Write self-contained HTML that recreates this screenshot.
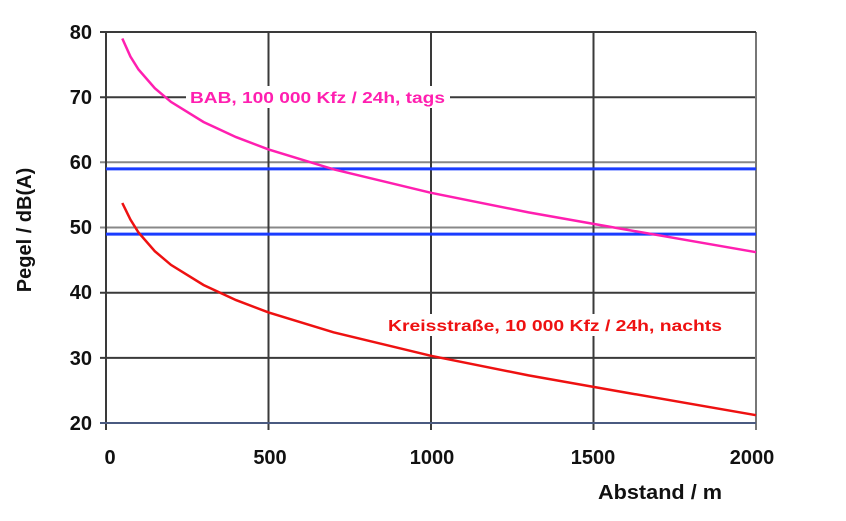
<!DOCTYPE html>
<html><head><meta charset="utf-8"><style>
body{margin:0;background:#fff}
svg{display:block;font-family:"Liberation Sans",Arial,sans-serif}
</style></head><body>
<svg width="846" height="521" viewBox="0 0 846 521">
<g stroke="#3a3a3a" stroke-width="2">
<line x1="100" y1="97.2" x2="756" y2="97.2"/>
<line x1="100" y1="162.3" x2="756" y2="162.3" stroke="#888"/>
<line x1="100" y1="227.5" x2="756" y2="227.5" stroke="#888"/>
<line x1="100" y1="292.7" x2="756" y2="292.7"/>
<line x1="100" y1="357.9" x2="756" y2="357.9"/>
<line x1="268.5" y1="32" x2="268.5" y2="430"/>
<line x1="431" y1="32" x2="431" y2="430"/>
<line x1="593.5" y1="32" x2="593.5" y2="430"/>
<line x1="756" y1="32" x2="756" y2="430" stroke="#777"/>
<line x1="100" y1="32" x2="756" y2="32"/>
<line x1="106" y1="32" x2="106" y2="430"/>
<line x1="100" y1="423" x2="756" y2="423" stroke="#4a5a80"/>
</g>
<line x1="106" y1="168.9" x2="756" y2="168.9" stroke="#1a3cff" stroke-width="3"/>
<line x1="106" y1="234.1" x2="756" y2="234.1" stroke="#1a3cff" stroke-width="3"/>
<rect x="186" y="86" width="264" height="22" fill="#fff"/>
<rect x="384" y="314" width="342" height="22" fill="#fff"/>
<polyline fill="none" stroke="#ff1fb0" stroke-width="2.5" points="122.3,38.5 130.4,56.5 138.5,69.5 154.8,88.2 171,101.9 203.5,122 236,137.1 268.5,149.4 333.5,169.3 431,192.8 528.5,212.4 626,229.6 756,252.2"/>
<polyline fill="none" stroke="#ee1111" stroke-width="2.5" points="122.3,203 130.4,219.5 138.5,232.5 154.8,251.2 171,264.9 203.5,285 236,300.1 268.5,312.4 333.5,332.3 431,355.8 528.5,375.4 626,392.6 756,415.2"/>
<text x="190" y="103" fill="#ff1fb0" font-size="16" font-weight="bold" textLength="255" lengthAdjust="spacingAndGlyphs">BAB, 100 000 Kfz / 24h, tags</text>
<text x="388" y="331" fill="#ee1111" font-size="16" font-weight="bold" textLength="334" lengthAdjust="spacingAndGlyphs">Kreisstraße, 10 000 Kfz / 24h, nachts</text>
<g font-size="20" font-weight="bold" fill="#111" text-anchor="end">
<text x="92" y="39">80</text><text x="92" y="104">70</text><text x="92" y="169">60</text>
<text x="92" y="234">50</text><text x="92" y="299">40</text><text x="92" y="365">30</text><text x="92" y="430">20</text>
</g>
<g font-size="20" font-weight="bold" fill="#111" text-anchor="middle">
<text x="110" y="464">0</text><text x="270" y="464">500</text><text x="432" y="464">1000</text>
<text x="593" y="464">1500</text><text x="752" y="464">2000</text>
</g>
<text x="598" y="499" font-size="20" font-weight="bold" fill="#111" textLength="124" lengthAdjust="spacingAndGlyphs">Abstand / m</text>
<text transform="translate(31,230) rotate(-90)" font-size="20" font-weight="bold" fill="#111" text-anchor="middle">Pegel  / dB(A)</text>
</svg>
</body></html>
